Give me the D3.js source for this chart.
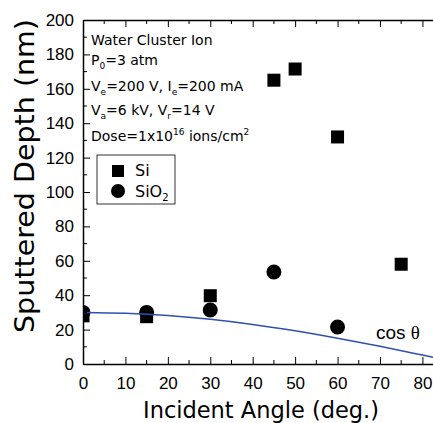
<!DOCTYPE html>
<html lang="en">
<head>
<meta charset="UTF-8">
<title>Sputtered Depth</title>
<script src="https://cdn.jsdelivr.net/npm/d3@7"></script>
<style>
    body { margin: 0; background: #fff; }
    svg { display: block; font-family: "DejaVu Sans", sans-serif; }
</style>
</head>
<body>
<script>
    // data
    var siAngles = [0, 15, 30, 45, 50, 60, 75];
    var siDepth = [28, 27.5, 39.7, 165, 171.5, 132, 58];
    var sio2Angles = [0, 15, 30, 45, 60];
    var sio2Depth = [30, 30, 31.4, 53.5, 21.5];
    // cos theta guide curve
    var cosAngles = [0, 10, 20, 30, 40, 50, 60, 70, 80, 82.5];
    var cosDepth = [30, 29.5, 28.2, 26, 23, 19.3, 15, 10.3, 5.2, 3.9];
    var xTicks = [0, 10, 20, 30, 40, 50, 60, 70, 80];
    var yTicks = [0, 20, 40, 60, 80, 100, 120, 140, 160, 180, 200];

    var W = 433, H = 423;
    // plot box (note: "top" is reserved on window, so use mT etc.)
    var mL = 83, mR = 433, mT = 20, mB = 364;

    var svg = d3.select("body").append("svg")
        .attr("width", W)
        .attr("height", H);

    // markers are clipped to the plot box
    svg.append("clipPath").attr("id", "plotclip")
        .append("rect").attr("x", mL).attr("y", mT)
        .attr("width", mR - mL).attr("height", mB - mT);

    var x = d3.scaleLinear().domain([0, 82.5]).range([mL, mR]);
    var y = d3.scaleLinear().domain([0, 200]).range([mB, mT]);

    // minor ticks
    var xMinor = d3.range(5, 82, 10);
    var yMinor = d3.range(10, 200, 20);

    var plot = svg.append("g").attr("clip-path", "url(#plotclip)");

    // Si squares
    var sq = 13;
    plot.append("g").selectAll("rect").data(siDepth).enter().append("rect")
        .attr("x", function (d, i) { return x(siAngles[i]) - sq / 2; })
        .attr("y", function (d) { return y(d) - sq / 2; })
        .attr("width", sq).attr("height", sq)
        .attr("fill", "#000");
    // SiO2 circles
    plot.append("g").selectAll("circle").data(sio2Depth).enter().append("circle")
        .attr("cx", function (d, i) { return x(sio2Angles[i]); })
        .attr("cy", function (d) { return y(d); })
        .attr("r", 7.5)
        .attr("fill", "#000");

    // cos curve (drawn over the markers)
    var line = d3.line()
        .x(function (d, i) { return x(cosAngles[i]); })
        .y(function (d) { return y(d); })
        .curve(d3.curveMonotoneX);
    plot.append("path").datum(cosDepth)
        .attr("d", line)
        .attr("fill", "none")
        .attr("stroke", "#3050b0")
        .attr("stroke-width", 1.5);

    // bottom axis
    var gx = svg.append("g").attr("transform", "translate(0," + mB + ")")
        .call(d3.axisBottom(x).tickValues(xTicks).tickSizeInner(-7).tickSizeOuter(0).tickPadding(13));
    gx.append("g").selectAll("line").data(xMinor).enter().append("line")
        .attr("x1", function (d) { return x(d); }).attr("x2", function (d) { return x(d); })
        .attr("y1", 0).attr("y2", -4).attr("stroke", "#000");
    // top axis
    var gt = svg.append("g").attr("transform", "translate(0," + mT + ")")
        .call(d3.axisTop(x).tickValues(xTicks).tickSizeInner(-7).tickSizeOuter(0).tickFormat(""));
    gt.append("g").selectAll("line").data(xMinor).enter().append("line")
        .attr("x1", function (d) { return x(d); }).attr("x2", function (d) { return x(d); })
        .attr("y1", 0).attr("y2", 4).attr("stroke", "#000");
    // left axis
    var gy = svg.append("g").attr("transform", "translate(" + mL + ",0)")
        .call(d3.axisLeft(y).tickValues(yTicks).tickSizeInner(-7).tickSizeOuter(0).tickPadding(9));
    gy.append("g").selectAll("line").data(yMinor).enter().append("line")
        .attr("y1", function (d) { return y(d); }).attr("y2", function (d) { return y(d); })
        .attr("x1", 0).attr("x2", 4).attr("stroke", "#000");

    svg.selectAll(".domain").attr("stroke", "#000").attr("stroke-width", 1.5);
    svg.selectAll(".tick line").attr("stroke", "#000");
    svg.selectAll(".tick text").attr("font-size", 17).attr("fill", "#000")
        .attr("font-family", "'Liberation Sans', Arial, sans-serif");

    // annotation
    var ann = svg.append("g").attr("font-size", 14).attr("fill", "#000");
    ann.append("text").attr("x", 91).attr("y", 45).text("Water Cluster Ion");
    var t = ann.append("text").attr("x", 91).attr("y", 65);
    t.append("tspan").text("P");
    t.append("tspan").attr("font-size", 9).attr("dy", 4).text("0");
    t.append("tspan").attr("dy", -4).text("=3 atm");
    t = ann.append("text").attr("x", 91).attr("y", 91);
    t.append("tspan").text("V");
    t.append("tspan").attr("font-size", 9).attr("dy", 4).text("e");
    t.append("tspan").attr("dy", -4).text("=200 V, I");
    t.append("tspan").attr("font-size", 9).attr("dy", 4).text("e");
    t.append("tspan").attr("dy", -4).text("=200 mA");
    t = ann.append("text").attr("x", 91).attr("y", 115);
    t.append("tspan").text("V");
    t.append("tspan").attr("font-size", 9).attr("dy", 4).text("a");
    t.append("tspan").attr("dy", -4).text("=6 kV, V");
    t.append("tspan").attr("font-size", 9).attr("dy", 4).text("r");
    t.append("tspan").attr("dy", -4).text("=14 V");
    t = ann.append("text").attr("x", 91).attr("y", 141);
    t.append("tspan").text("Dose=1x10");
    t.append("tspan").attr("font-size", 9).attr("dy", -6).text("16");
    t.append("tspan").attr("dy", 6).text(" ions/cm");
    t.append("tspan").attr("font-size", 9).attr("dy", -6).text("2");

    // legend
    var lg = svg.append("g");
    lg.append("rect").attr("x", 97).attr("y", 155).attr("width", 78).attr("height", 49)
        .attr("fill", "#fff").attr("stroke", "#000").attr("stroke-width", 0.8);
    lg.append("rect").attr("x", 112).attr("y", 165).attr("width", 12).attr("height", 12).attr("fill", "#000");
    lg.append("circle").attr("cx", 118).attr("cy", 191).attr("r", 7).attr("fill", "#000");
    lg.append("text").attr("x", 135).attr("y", 176).attr("font-size", 16).text("Si");
    t = lg.append("text").attr("x", 135).attr("y", 197).attr("font-size", 16);
    t.append("tspan").text("SiO");
    t.append("tspan").attr("font-size", 10).attr("dy", 4).text("2");

    // cos theta label
    t = svg.append("text").attr("x", 376).attr("y", 339).attr("font-size", 19)
        .attr("font-family", "'Liberation Sans', Arial, sans-serif");
    t.append("tspan").text("cos ");
    t.append("tspan").attr("font-family", "'Liberation Serif', serif").text("θ");

    // axis titles
    svg.append("text").attr("x", 143).attr("y", 418)
        .attr("font-size", 23).attr("textLength", 236).attr("lengthAdjust", "spacingAndGlyphs")
        .text("Incident Angle (deg.)");
    svg.append("text").attr("transform", "translate(34,333) rotate(-90)")
        .attr("font-size", 26).attr("textLength", 314).attr("lengthAdjust", "spacingAndGlyphs")
        .text("Sputtered Depth (nm)");
</script>
</body>
</html>
